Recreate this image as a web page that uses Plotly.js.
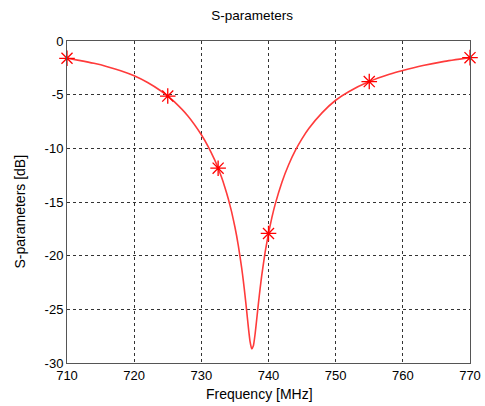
<!DOCTYPE html>
<html><head><meta charset="utf-8">
<script src="https://cdn.plot.ly/plotly-3.0.1.min.js"></script>
<style>html,body{margin:0;padding:0;background:#fff}#chart{width:485px;height:406px}</style>
</head><body><div id="chart"></div>
<script>
// Curve (frequency in MHz, S-parameter in dB)
const freq = [710,712,714,716,718,720,722,724,725,726,728,730,731,732,732.5,733,733.5,734,734.5,735,735.5,736,736.25,736.5,736.75,737,737.25,737.5,737.75,738,738.25,738.5,738.75,739,739.5,740,740.5,741,742,743,744,745,746,748,750,752,755,758,760,763,766,770];
const sdb  = [-1.61,-1.83,-2.08,-2.39,-2.77,-3.24,-3.87,-4.66,-5.13,-5.67,-6.98,-8.73,-9.81,-11.10,-11.85,-12.68,-13.62,-14.68,-15.90,-17.33,-19.03,-21.11,-22.32,-23.67,-25.14,-26.66,-27.98,-28.68,-28.39,-27.32,-25.90,-24.44,-23.07,-21.82,-19.68,-17.93,-16.46,-15.20,-13.15,-11.53,-10.20,-9.10,-8.16,-6.67,-5.52,-4.70,-3.78,-3.10,-2.74,-2.28,-1.92,-1.55];
// Marker points
const markFreq = [710,725,732.5,740,755,770];
const markDb   = [-1.61,-5.13,-11.85,-17.93,-3.78,-1.55];
// Tick labels
const xTicks = [710,720,730,740,750,760,770];
const yTicks = [0,-5,-10,-15,-20,-25,-30];
const yTickText = ['0','-5','-10','-15','-20','-25','-30'];

const font = 'Liberation Sans, Arial, sans-serif';
const traces = [
  {x: freq, y: sdb, type: 'scatter', mode: 'lines',
   line: {color: '#ff3b3b', width: 1.6, shape: 'spline', smoothing: 0.5},
   hoverinfo: 'skip', showlegend: false},
  {x: markFreq, y: markDb, type: 'scatter', mode: 'markers',
   marker: {symbol: 'asterisk-open', size: 13, color: '#ff0000', line: {color: '#ff1010', width: 1.3}},
   showlegend: false, cliponaxis: false}
];
const axisCommon = {
  showline: true, mirror: true, linecolor: '#555', linewidth: 1,
  showgrid: true, gridcolor: '#333', griddash: 'dot', gridwidth: 1,
  zeroline: false, ticks: '', tickfont: {family: font, size: 13, color: '#000'}
};
const layout = {
  width: 485, height: 406,
  margin: {l: 67, r: 15, t: 41, b: 43},
  paper_bgcolor: '#fff', plot_bgcolor: '#fff',
  title: {text: 'S-parameters', font: {family: font, size: 13.5, color: '#000'}, x: 0.52, xanchor: 'center', y: 0.963, yanchor: 'middle'},
  xaxis: Object.assign({}, axisCommon, {range: [710, 770], tickvals: xTicks}),
  yaxis: Object.assign({}, axisCommon, {range: [-30, 0], tickvals: yTicks, ticktext: yTickText}),
  annotations: [
    {text: 'Frequency [MHz]', xref: 'paper', yref: 'paper', x: 0.477, y: -0.095, xanchor: 'center', yanchor: 'middle',
     showarrow: false, font: {family: font, size: 14, color: '#000'}},
    {text: 'S-parameters [dB]', xref: 'paper', yref: 'paper', x: -0.117, y: 0.47, xanchor: 'center', yanchor: 'middle',
     textangle: -90, showarrow: false, font: {family: font, size: 14, color: '#000'}}
  ],
  showlegend: false
};
Plotly.newPlot('chart', traces, layout, {displayModeBar: false, staticPlot: true});
</script>
</body></html>
